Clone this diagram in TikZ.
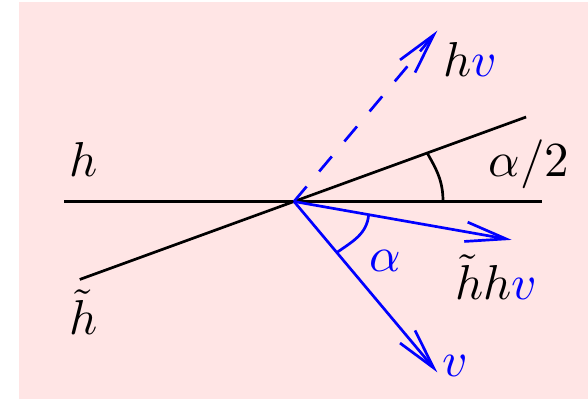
\documentclass[tikz,border=0pt]{standalone}
\usetikzlibrary{calc,arrows.meta}
\begin{document}
\begin{tikzpicture}[x=0.2041pt,y=0.2041pt,
  lbl/.style={anchor=base,inner sep=0pt},
  ln/.style={line width=0.55pt},
  vec/.style={line width=0.55pt,blue,-{Straight Barb[length=8.3pt,width=4pt]}}]
\useasboundingbox (0,0) rectangle (588,399);
\fill[red!10] (19,0) rectangle (588,397);
\coordinate (O) at (294,197.5);
\coordinate (HL) at (64,197.5);
\coordinate (HR) at (542,197.5);
\coordinate (TL) at ($(O)+(200:228)$);
\coordinate (TR) at ($(O)+(20:247)$);
\coordinate (V) at ($(O)+(-50:223)$);
\coordinate (HV) at ($(O)+(50:223)$);
\coordinate (HHV) at ($(O)+(-10:221)$);
\coordinate (A1) at ($(O)+(0:149)$);
\coordinate (A2) at ($(O)+(20:141.7)$);
\coordinate (B1) at ($(O)+(-10:75.8)$);
\coordinate (B2) at ($(O)+(-50:66.6)$);
% black lines
\draw[ln] (HL) -- (HR);
\draw[ln] (TL) -- (TR);
\draw[ln] (A1) to[out=90,in=-60] (A2);
% blue
\draw[vec] (O) -- (V);
\draw[vec] (O) -- (HHV);
\draw[vec,dash pattern=on 4pt off 4pt] (O) -- (HV);
\draw[ln,blue] (B1) to[out=-95,in=35] (B2);
% labels
\node[lbl] (lh) at (84,222) {$h$};
\node[lbl] (lht) at (84,64) {$\tilde{h}$};
\node[lbl] (lhv) at (470,322) {$h{\color{blue}v}$};
\node[lbl] (lhhv) at (496,99) {$\tilde{h}h{\color{blue}v}$};
\node[lbl] (la2) at (529,222) {$\alpha/2$};
\node[lbl,text=blue] (la) at (385,127) {$\alpha$};
\node[lbl,text=blue] (lv) at (455,22) {$v$};
\end{tikzpicture}
\end{document}
